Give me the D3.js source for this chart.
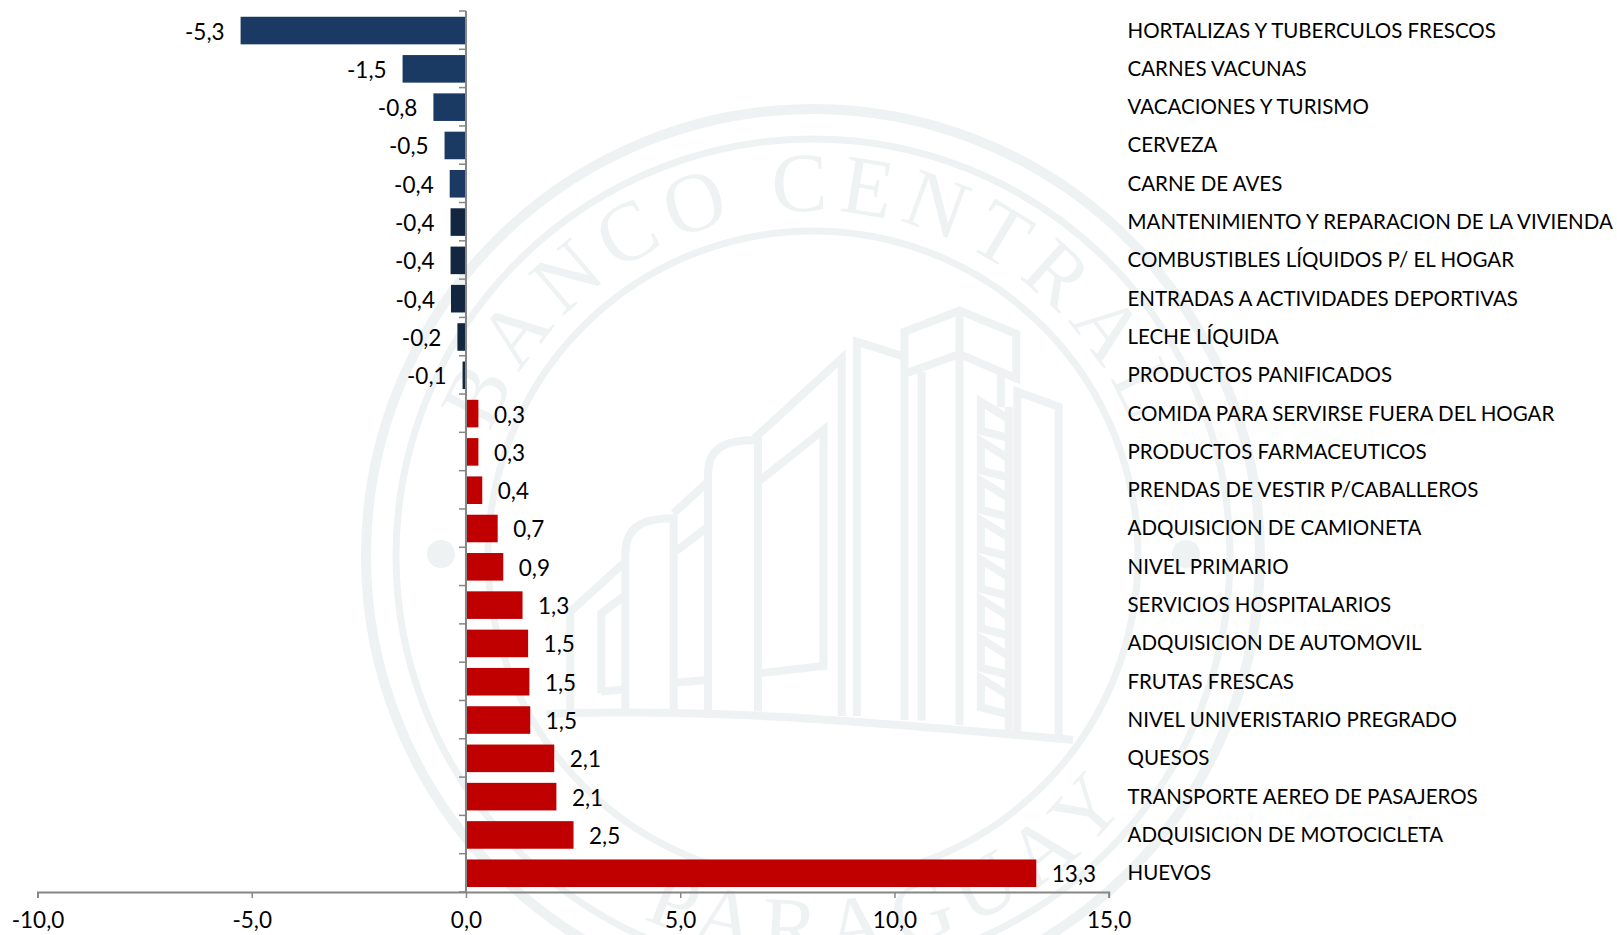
<!DOCTYPE html>
<html>
<head>
<meta charset="utf-8">
<script src="https://cdn.jsdelivr.net/npm/d3@7"></script>
<style>
  body { margin: 0; background: #fff; }
  text { font-family: Lato, sans-serif; fill: #000; }
  .domain, .tick line { stroke: #868686; }
</style>
</head>
<body>
<svg id="chart" width="1617" height="935"></svg>
<script>
const categories = [
  "HORTALIZAS Y TUBERCULOS FRESCOS", "CARNES VACUNAS", "VACACIONES Y TURISMO", "CERVEZA",
  "CARNE DE AVES", "MANTENIMIENTO Y REPARACION DE LA VIVIENDA", "COMBUSTIBLES LÍQUIDOS P/ EL HOGAR",
  "ENTRADAS A ACTIVIDADES DEPORTIVAS", "LECHE LÍQUIDA", "PRODUCTOS PANIFICADOS",
  "COMIDA PARA SERVIRSE FUERA DEL HOGAR", "PRODUCTOS FARMACEUTICOS", "PRENDAS DE VESTIR P/CABALLEROS",
  "ADQUISICION DE CAMIONETA", "NIVEL PRIMARIO", "SERVICIOS HOSPITALARIOS", "ADQUISICION DE AUTOMOVIL",
  "FRUTAS FRESCAS", "NIVEL UNIVERISTARIO PREGRADO", "QUESOS", "TRANSPORTE AEREO DE PASAJEROS",
  "ADQUISICION DE MOTOCICLETA", "HUEVOS",
]
// bar lengths as measured on the picture
const values = [
  -5.26, -1.48, -0.76, -0.5, -0.38, -0.36, -0.36, -0.35, -0.2, -0.08,
  0.29, 0.29, 0.38, 0.74, 0.87, 1.32, 1.45, 1.48, 1.5, 2.06, 2.11, 2.51, 13.31,
]
// printed labels
const valueLabels = [
  "-5,3", "-1,5", "-0,8", "-0,5", "-0,4", "-0,4", "-0,4", "-0,4", "-0,2", "-0,1",
  "0,3", "0,3", "0,4", "0,7", "0,9", "1,3", "1,5", "1,5", "1,5", "2,1", "2,1", "2,5", "13,3",
]
const xTicks = [-10, -5, 0, 5, 10, 15]

const svg = d3.select("#chart")

const x = d3.scaleLinear().domain([-10, 15]).range([37.5, 1108.7])
const y = d3.scaleBand().domain(categories).range([11, 892]).paddingInner(0.28).paddingOuter(0.14)

function barColor(d, i) {
  if (d >= 0) return "#c00000"
  return i < 5 ? "#1a3a63" : "#12263f"
}

// watermark seal behind the chart
const mark = svg.append("g").attr("fill", "none").attr("stroke", "#eef2f3")
const cx = 813
const cy = 556

mark.selectAll("circle.ring")
  .data([[447, 10], [417, 7], [325, 7]])
  .join("circle")
  .attr("class", "ring")
  .attr("cx", cx)
  .attr("cy", cy)
  .attr("r", (d) => d[0])
  .attr("stroke-width", (d) => d[1])

mark.selectAll("circle.dot")
  .data([441, 1186])
  .join("circle")
  .attr("class", "dot")
  .attr("cx", (d) => d)
  .attr("cy", 554)
  .attr("r", 14)
  .attr("fill", "#eef2f3")
  .attr("stroke", "none")

const defs = svg.append("defs")
defs.append("path").attr("id", "arcTop")
  .attr("d", `M${cx - 345},${cy} A345,345 0 1,1 ${cx + 345},${cy} `)
defs.append("path").attr("id", "arcBottom")
  .attr("d", `M${cx - 400},${cy} A400,400 0 1,0 ${cx + 400},${cy}`)

function sealText(pathId, offset, spacing, label) {
  svg.append("text")
    .style("font-family", "'Liberation Serif', serif")
    .style("font-size", "84px")
    .style("letter-spacing", spacing)
    .style("fill", "#eef2f3")
    .attr("text-anchor", "middle")
    .append("textPath")
    .attr("href", pathId)
    .attr("startOffset", offset)
    .text(label)
}
sealText("#arcTop", "50%", "10px", "BANCO CENTRAL")
sealText("#arcBottom", "57.8%", "12px", "PARAGUAY")

// building, traced in the zoom crop grid
const building = mark.append("g").attr("transform", "translate(560,290) scale(0.3444,0.3333)")
const buildingLines = [
  "M-40,1272 C400,1255 800,1285 1490,1350",
  "M30,1270 L30,965 L190,815",
  "M120,1210 L120,970 L190,915 M120,1205 L190,1198",
  "M190,1260 L190,790 C190,710 240,685 330,685 L330,1260",
  "M330,670 L430,575 M335,785 L430,710 M335,1178 L430,1170",
  "M430,1260 L430,550 C430,480 470,450 575,450 L575,1265",
  "M565,445 L818,205 L818,1278",
  "M580,572 L765,420 L765,1128 L580,1150",
  "M862,1278 L862,155 L1000,200 M1000,1290 L1000,125 L1160,62 L1325,132 L1325,265 L1160,192 L1005,250",
  "M1050,1292 L1050,245 M1160,62 L1160,1305",
  "M1280,250 L1280,352 M1303,350 L1303,1322 M1328,1325 L1328,305 L1448,350 L1448,1340",
]
building.selectAll("path.wall")
  .data(buildingLines)
  .join("path")
  .attr("class", "wall")
  .attr("d", (d) => d)
  .attr("vector-effect", "non-scaling-stroke")
  .attr("stroke-width", 8)

building.selectAll("path.stair")
  .data(d3.range(8))
  .join("path")
  .attr("class", "stair")
  .attr("d", (d) => {
    const t = 335 + d * 118.5
    return `M1300,${t + 50} L1222,${t} L1222,${t + 88} L1300,${t + 108}`
  })
  .attr("vector-effect", "non-scaling-stroke")
  .attr("stroke-width", 8)

// bars
svg.append("g")
  .selectAll("rect")
  .data(values)
  .join("rect")
  .attr("x", (d) => (d < 0 ? x(d) : x(0) + 1))
  .attr("y", (d, i) => y(categories[i]) + 0.4)
  .attr("width", (d) => (d < 0 ? x(0) - x(d) : x(d) - x(0) - 1))
  .attr("height", y.bandwidth())
  .attr("fill", barColor)

// value labels
svg.append("g")
  .selectAll("text")
  .data(values)
  .join("text")
  .attr("x", (d) => (d < 0 ? x(d) - 16 : x(d) + 15.5))
  .attr("y", (d, i) => y(categories[i]) + y.bandwidth() / 2 + 1.5)
  .attr("dy", "0.35em")
  .attr("text-anchor", (d) => (d < 0 ? "end" : "start"))
  .style("font-size", "22.5px")
  .text((d, i) => valueLabels[i])

// category labels
svg.append("g")
  .selectAll("text")
  .data(categories)
  .join("text")
  .attr("x", 1127.5)
  .attr("y", (d) => y(d) + y.bandwidth() / 2)
  .attr("dy", "0.36em")
  .style("font-size", "20.5px")
  .text((d) => d)

// x axis
const xAxis = svg.append("g")
  .attr("transform", "translate(0,892)")
  .call(d3.axisBottom(x).tickValues(xTicks).tickSize(6).tickFormat((d) => d.toFixed(1).replace(".", ",")))
xAxis.select(".domain").attr("stroke-width", 2)
xAxis.selectAll(".tick line").attr("stroke-width", 1.5)
xAxis.selectAll(".tick text").attr("y", 20).style("font-size", "22.5px").style("font-family", "Lato, sans-serif")

// y axis, ticks sit between the bars
const step = y.step()
const yTicks = d3.range(categories.length + 1).map((i) => y.range()[0] + i * step)
const yAxis = svg.append("g")
yAxis.append("line")
  .attr("x1", x(0)).attr("x2", x(0))
  .attr("y1", y.range()[0]).attr("y2", y.range()[1])
  .attr("stroke", "#868686").attr("stroke-width", 2)
yAxis.selectAll("line.tick")
  .data(yTicks)
  .join("line")
  .attr("class", "tick")
  .attr("x1", x(0) - 7).attr("x2", x(0))
  .attr("y1", (d) => d).attr("y2", (d) => d)
  .attr("stroke", "#868686").attr("stroke-width", 1.5)
</script>
</body>
</html>
